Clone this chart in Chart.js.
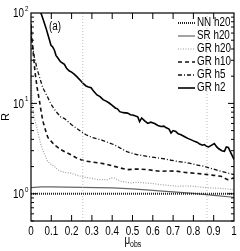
<!DOCTYPE html>
<html>
<head>
<meta charset="utf-8">
<script src="https://cdn.jsdelivr.net/npm/chart.js@4.4.1/dist/chart.umd.min.js"></script>
<style>
  html, body { margin: 0; padding: 0; background: #fff; }
</style>
</head>
<body>
<canvas id="chart" width="240" height="251"></canvas>
<script>
const FONT = '"Liberation Sans", Arial, sans-serif';

// axis ticks
const xTickValues = [0, 0.1, 0.2, 0.3, 0.4, 0.5, 0.6, 0.7, 0.8, 0.9, 1];
const xTickLabels = ["0", "0.1", "0.2", "0.3", "0.4", "0.5", "0.6", "0.7", "0.8", "0.9", "1"];
const yDecades = [1, 10, 100];
const yExponents = ["0", "1", "2"];
const refLines = [0.255, 0.867];

// series (mu_obs, R)
const nnMu = [0, 1];
const nnR = [1, 1];

const srMu = [0, 0.05, 0.1, 0.25, 0.4, 0.5, 0.6, 0.7, 0.8, 0.9, 1.0];
const srR = [1.17, 1.19, 1.19, 1.18, 1.16, 1.135, 1.09, 1.05, 1.01, 0.96, 0.915];

const h20Mu = [0, 0.004, 0.008, 0.017, 0.025, 0.033, 0.049, 0.065, 0.082, 0.1, 0.115, 0.13, 0.148, 0.17, 0.197,
  0.22, 0.246, 0.27, 0.296, 0.33, 0.355, 0.378, 0.395, 0.411, 0.444, 0.493, 0.52, 0.557, 0.6, 0.64, 0.68,
  0.723, 0.76, 0.805, 0.84, 0.887, 0.93, 0.97, 1.0];
const h20R = [25, 12, 9, 6.84, 5.8, 4.88, 3.48, 2.8, 2.28, 2.1, 2.01, 1.85, 1.77, 1.72, 1.69,
  1.62, 1.56, 1.52, 1.49, 1.43, 1.44, 1.43, 1.5, 1.49, 1.37, 1.32, 1.34, 1.32, 1.3, 1.26, 1.24,
  1.21, 1.22, 1.21, 1.18, 1.16, 1.15, 1.13, 1.11];

const h10Mu = [0, 0.005, 0.01, 0.02, 0.03, 0.042, 0.052, 0.06, 0.072, 0.083, 0.1, 0.115, 0.148, 0.175, 0.197,
  0.22, 0.246, 0.27, 0.3, 0.345, 0.38, 0.411, 0.44, 0.476, 0.52, 0.575, 0.61, 0.64, 0.68, 0.723, 0.76,
  0.805, 0.84, 0.87, 0.9, 0.936, 0.969, 1.0];
const h10R = [75, 50, 38, 22, 15, 10.5, 7.6, 6.2, 5.0, 4.2, 3.8, 3.48, 3.07, 2.85, 2.7,
  2.52, 2.38, 2.3, 2.25, 2.18, 2.1, 2.01, 1.93, 1.85, 1.88, 1.85, 1.8, 1.77, 1.79, 1.77, 1.72,
  1.69, 1.66, 1.63, 1.6, 1.56, 1.43, 1.5];

const h5Mu = [0, 0.003, 0.017, 0.033, 0.058, 0.08, 0.0985, 0.12, 0.148, 0.165, 0.2, 0.225, 0.246, 0.271, 0.3,
  0.345, 0.38, 0.411, 0.44, 0.476, 0.52, 0.575, 0.62, 0.65, 0.69, 0.723, 0.76, 0.79, 0.82, 0.854,
  0.89, 0.936, 0.97, 1.0];
const h5R = [70, 50, 32, 22.8, 14.9, 12, 9.8, 8.3, 7.0, 6.8, 5.8, 5.3, 4.9, 4.5, 4.2,
  3.95, 3.7, 3.48, 3.2, 2.9, 2.72, 2.59, 2.5, 2.45, 2.35, 2.28, 2.22, 2.15, 2.08, 2.01,
  1.9, 1.77, 1.7, 1.63];

const h2Mu = [0.04, 0.049, 0.062, 0.074, 0.086, 0.0985, 0.107, 0.115, 0.123, 0.1315, 0.145, 0.1645, 0.175, 0.189,
  0.2, 0.214, 0.228, 0.246, 0.258, 0.271, 0.283, 0.296, 0.31, 0.325, 0.34, 0.355, 0.37, 0.385, 0.4,
  0.415, 0.426, 0.437, 0.455, 0.476, 0.49, 0.505, 0.526, 0.535, 0.545, 0.56, 0.575, 0.59, 0.609,
  0.625, 0.64, 0.655, 0.664, 0.68, 0.69, 0.7, 0.713, 0.725, 0.739, 0.755, 0.772, 0.79, 0.805,
  0.82, 0.831, 0.845, 0.854, 0.865, 0.875, 0.89, 0.903, 0.915, 0.925, 0.94, 0.953, 0.962, 0.972,
  0.984, 1.0];
const h2R = [130, 100, 82, 68, 55, 44, 42, 39, 34, 32, 29, 27, 24.5, 22.8,
  22.2, 20.9, 19.5, 17.7, 16.5, 15.6, 15.2, 14.9, 13.5, 12.4, 11.9, 11.0, 10.6, 10.1, 9.5,
  8.9, 8.7, 8.1, 7.9, 7.8, 7.5, 7.4, 7.1, 6.3, 6.9, 6.4, 6.0, 6.2, 6.0,
  5.7, 5.55, 5.6, 5.4, 5.2, 4.7, 5.0, 4.9, 4.6, 4.5, 4.3, 4.1, 3.95, 3.8,
  3.7, 3.55, 3.45, 3.5, 3.35, 3.3, 3.45, 3.6, 3.3, 3.15, 3.0, 2.95, 3.3, 3.25,
  2.85, 2.4];

function pts(xs, ys) {
  return xs.map((x, i) => ({ x: x, y: ys[i] }));
}

const series = [
  { label: "NN h20", data: pts(nnMu, nnR), borderColor: "#222", borderWidth: 2, borderDash: [1, 1] },
  { label: "SR h20", data: pts(srMu, srR), borderColor: "#666", borderWidth: 1.2, borderDash: [] },
  { label: "GR h20", data: pts(h20Mu, h20R), borderColor: "#a0a0a0", borderWidth: 1.2, borderDash: [1, 1.5] },
  { label: "GR h10", data: pts(h10Mu, h10R), borderColor: "#111", borderWidth: 1.6, borderDash: [4, 3] },
  { label: "GR h5", data: pts(h5Mu, h5R), borderColor: "#111", borderWidth: 1.3, borderDash: [4, 2, 1, 2] },
  { label: "GR h2", data: pts(h2Mu, h2R), borderColor: "#000", borderWidth: 1.6, borderDash: [] }
];

const refSets = refLines.map(v => ({
  label: "", data: [{ x: v, y: 0.5 }, { x: v, y: 100 }],
  borderColor: "#aaa", borderWidth: 0.8, borderDash: [1, 2]
}));

// narrow text, like the condensed Helvetica of the original
function txt(ctx, s, x, y, size, align) {
  ctx.save();
  ctx.translate(x, y);
  ctx.scale(0.82, 1);
  ctx.font = size + "px " + FONT;
  ctx.textAlign = align || "left";
  ctx.textBaseline = "middle";
  ctx.fillText(s, 0, 0);
  ctx.restore();
}

// frame, inward ticks, labels, legend
const framePlugin = {
  id: "frame",
  afterDraw(chart) {
    const ctx = chart.ctx;
    const a = chart.chartArea;
    const xs = chart.scales.x, ys = chart.scales.y;
    ctx.save();
    ctx.strokeStyle = "#000";
    ctx.lineWidth = 1.2;
    ctx.strokeRect(a.left, a.top, a.right - a.left, a.bottom - a.top);

    ctx.lineWidth = 1;
    ctx.beginPath();
    for (let i = 1; i < 10; i++) {
      const px = xs.getPixelForValue(xTickValues[i]);
      ctx.moveTo(px, a.bottom); ctx.lineTo(px, a.bottom - 6);
      ctx.moveTo(px, a.top); ctx.lineTo(px, a.top + 6);
    }
    [0.1, 1, 10].forEach(dec => {
      for (let m = 1; m <= 9; m++) {
        const v = dec * m;
        if (v < 0.5 || v > 100) continue;
        const py = ys.getPixelForValue(v);
        const len = m === 1 ? 6 : 3;
        ctx.moveTo(a.left, py); ctx.lineTo(a.left + len, py);
        ctx.moveTo(a.right, py); ctx.lineTo(a.right - len, py);
      }
    });
    ctx.stroke();

    ctx.fillStyle = "#000";
    xTickValues.forEach((v, i) => {
      txt(ctx, xTickLabels[i], xs.getPixelForValue(v), a.bottom + 11, 12, "center");
    });
    yDecades.forEach((v, i) => {
      const py = ys.getPixelForValue(v);
      txt(ctx, "10", 24, py + 1, 12, "right");
      txt(ctx, yExponents[i], 25, py - 4, 7.5, "left");
    });

    ctx.save();
    ctx.translate(6, (a.top + a.bottom) / 2);
    ctx.rotate(-Math.PI / 2);
    ctx.textAlign = "center";
    ctx.textBaseline = "middle";
    ctx.font = "11px " + FONT;
    ctx.fillText("R", 0, 0);
    ctx.restore();

    txt(ctx, "μ", 124.5, 241, 12);
    txt(ctx, "obs", 130, 245, 8.5);
    txt(ctx, "(a)", 49, 27, 12);

    // legend
    series.forEach((s, i) => {
      const y = 23 + i * 13;
      ctx.strokeStyle = s.borderColor;
      ctx.lineWidth = s.borderWidth;
      ctx.setLineDash(s.borderDash);
      ctx.beginPath();
      ctx.moveTo(178, y); ctx.lineTo(195, y);
      ctx.stroke();
      ctx.setLineDash([]);
      ctx.fillStyle = "#000";
      txt(ctx, s.label, 197, y, 12);
    });
    ctx.restore();
  }
};

new Chart(document.getElementById("chart"), {
  type: "line",
  data: {
    datasets: refSets.concat(series).map(d => Object.assign({
      fill: false, pointRadius: 0, tension: 0, borderCapStyle: "butt"
    }, d))
  },
  options: {
    responsive: false,
    animation: false,
    devicePixelRatio: 1,
    layout: { padding: { top: 13, right: 6, left: 0, bottom: 0 } },
    plugins: { legend: { display: false }, tooltip: { enabled: false } },
    scales: {
      x: {
        type: "linear", min: 0, max: 1,
        grid: { display: false, drawTicks: false },
        border: { display: false },
        ticks: { display: false, stepSize: 0.1 },
        afterFit: s => { s.height = 30; }
      },
      y: {
        type: "logarithmic", min: 0.5, max: 100,
        grid: { display: false, drawTicks: false },
        border: { display: false },
        ticks: { display: false },
        afterFit: s => { s.width = 31; }
      }
    }
  },
  plugins: [framePlugin]
});
</script>
</body>
</html>
